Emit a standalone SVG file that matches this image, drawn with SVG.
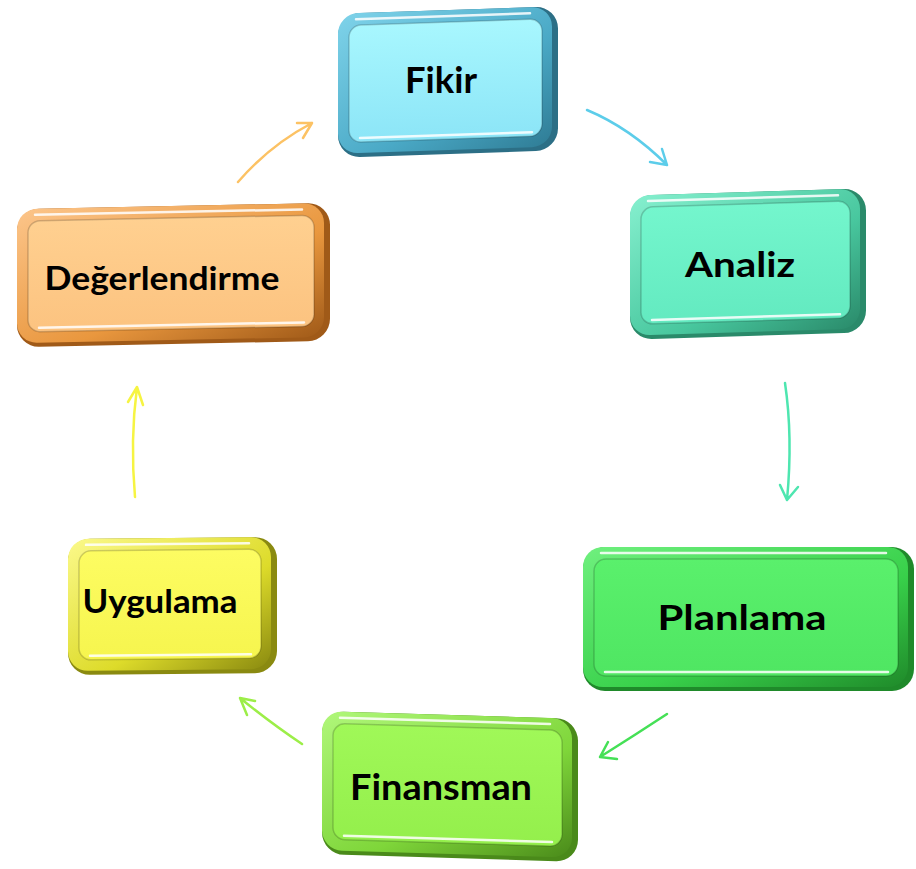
<svg xmlns="http://www.w3.org/2000/svg" width="916" height="869" viewBox="0 0 916 869">
<defs>
<linearGradient id="gFikB" x1="0" y1="0" x2="1" y2="1"><stop offset="0" stop-color="#7fd3ea"/><stop offset="0.6" stop-color="#4aa9c6"/><stop offset="1" stop-color="#2f7c95"/></linearGradient>
<linearGradient id="gFikF" x1="0" y1="0" x2="0" y2="1"><stop offset="0" stop-color="#a8f7fe"/><stop offset="1" stop-color="#8ce5f7"/></linearGradient>
<linearGradient id="gAnaB" x1="0" y1="0" x2="1" y2="1"><stop offset="0" stop-color="#86f0cf"/><stop offset="0.6" stop-color="#48c79e"/><stop offset="1" stop-color="#2a8a6a"/></linearGradient>
<linearGradient id="gAnaF" x1="0" y1="0" x2="0" y2="1"><stop offset="0" stop-color="#74f6cd"/><stop offset="1" stop-color="#63eac0"/></linearGradient>
<linearGradient id="gPlaB" x1="0" y1="0" x2="1" y2="1"><stop offset="0" stop-color="#6ff07e"/><stop offset="0.6" stop-color="#38d04a"/><stop offset="1" stop-color="#1f8a2a"/></linearGradient>
<linearGradient id="gPlaF" x1="0" y1="0" x2="0" y2="1"><stop offset="0" stop-color="#5af06c"/><stop offset="1" stop-color="#4fe662"/></linearGradient>
<linearGradient id="gFinB" x1="0" y1="0" x2="1" y2="1"><stop offset="0" stop-color="#b0f77a"/><stop offset="0.6" stop-color="#7fd63a"/><stop offset="1" stop-color="#4a8a1a"/></linearGradient>
<linearGradient id="gFinF" x1="0" y1="0" x2="0" y2="1"><stop offset="0" stop-color="#a0f858"/><stop offset="1" stop-color="#94ef4c"/></linearGradient>
<linearGradient id="gDegB" x1="0" y1="0" x2="1" y2="1"><stop offset="0" stop-color="#fcc58a"/><stop offset="0.6" stop-color="#e9973e"/><stop offset="1" stop-color="#a05a18"/></linearGradient>
<linearGradient id="gDegF" x1="0" y1="0" x2="0" y2="1"><stop offset="0" stop-color="#ffd090"/><stop offset="1" stop-color="#fcc380"/></linearGradient>
<linearGradient id="gUygB" x1="0" y1="0" x2="1" y2="1"><stop offset="0" stop-color="#fbf98a"/><stop offset="0.6" stop-color="#dddb2a"/><stop offset="1" stop-color="#8a8a10"/></linearGradient>
<linearGradient id="gUygF" x1="0" y1="0" x2="0" y2="1"><stop offset="0" stop-color="#fdfc62"/><stop offset="1" stop-color="#f6f54e"/></linearGradient>
</defs>
<style>
.lbl{font-family:Lato,"Open Sans","Liberation Sans",sans-serif;font-weight:bold;fill:#000;text-anchor:middle}
.hl{fill:none;stroke:#ffffff;stroke-width:2.5;stroke-opacity:0.85;stroke-linecap:round}
.rim{fill:none;stroke:#000;stroke-opacity:0.18;stroke-width:1.5}
.arr{fill:none;stroke-width:2.5;stroke-linecap:round;stroke-linejoin:round}
</style>

<g id="connectors">
<path class="arr" stroke="#5ccdea" d="M587 110 Q630 128 667 165 M662 149 L667 165 L650 162"/>
<path class="arr" stroke="#4ee6b0" d="M785 383 Q793 437 787 500 M780 485 L787 500 L798 487"/>
<path class="arr" stroke="#45e056" d="M667 714 Q635 735 600 757 M608 742 L600 757 L617 759"/>
<path class="arr" stroke="#9cee48" d="M302 744 Q272 724 240 698 M255 701 L240 698 L247 715"/>
<path class="arr" stroke="#f6f442" d="M135 497 Q130 440 137 387 M128 402 L137 387 L143 405"/>
<path class="arr" stroke="#fcc264" d="M238 182 Q270 145 312 123 M297 123 L312 123 L303 138"/>
</g>

<g id="node-fikir">
<g transform="matrix(1 -0.034 0 1 0 15.23)">
<rect x="338" y="10" width="220" height="144" rx="22" fill="#2c6f86"/>
<rect x="338" y="10" width="214" height="140" rx="20" fill="url(#gFikB)"/>
<rect x="349" y="22" width="193" height="117" rx="12" fill="url(#gFikF)"/>
<rect x="349" y="22" width="193" height="117" rx="12" class="rim"/>
<path class="hl" d="M360 135 L532 135"/>
<path class="hl" d="M356 16 L530 16" stroke-opacity="0.5"/>
</g>
<text class="lbl" x="441" y="93" font-size="36" textLength="72" lengthAdjust="spacingAndGlyphs">Fikir</text>
</g>

<g id="node-analiz">
<g transform="matrix(1 -0.03 0 1 0 22.44)">
<rect x="630" y="192" width="236" height="144" rx="22" fill="#2a8a6a"/>
<rect x="630" y="192" width="230" height="140" rx="20" fill="url(#gAnaB)"/>
<rect x="641" y="204" width="209" height="117" rx="12" fill="url(#gAnaF)"/>
<rect x="641" y="204" width="209" height="117" rx="12" class="rim"/>
<path class="hl" d="M652 317 L840 317"/>
<path class="hl" d="M648 198 L838 198" stroke-opacity="0.5"/>
</g>
<text class="lbl" x="740" y="277" font-size="35" textLength="110" lengthAdjust="spacingAndGlyphs">Analiz</text>
</g>

<g id="node-planlama">
<rect x="583" y="547" width="331" height="144" rx="22" fill="#1f8a2a"/>
<rect x="583" y="547" width="325" height="140" rx="20" fill="url(#gPlaB)"/>
<rect x="594" y="559" width="304" height="117" rx="12" fill="url(#gPlaF)"/>
<rect x="594" y="559" width="304" height="117" rx="12" class="rim"/>
<path class="hl" d="M605 672 L888 672"/>
<path class="hl" d="M601 553 L886 553" stroke-opacity="0.5"/>
<text class="lbl" x="742" y="630" font-size="35" textLength="169" lengthAdjust="spacingAndGlyphs">Planlama</text>
</g>

<g id="node-finansman">
<g transform="matrix(1 0.03 0 1 0 -13.49)">
<rect x="322" y="715" width="256" height="143" rx="22" fill="#4a8a1a"/>
<rect x="322" y="715" width="250" height="139" rx="20" fill="url(#gFinB)"/>
<rect x="333" y="727" width="229" height="116" rx="12" fill="url(#gFinF)"/>
<rect x="333" y="727" width="229" height="116" rx="12" class="rim"/>
<path class="hl" d="M344 839 L552 839"/>
<path class="hl" d="M340 721 L550 721" stroke-opacity="0.5"/>
</g>
<text class="lbl" x="441" y="800" font-size="36" textLength="182" lengthAdjust="spacingAndGlyphs">Finansman</text>
</g>

<g id="node-uygulama">
<g transform="matrix(1 -0.01 0 1 0 1.73)">
<rect x="68" y="538" width="209" height="136" rx="22" fill="#8a8a10"/>
<rect x="68" y="538" width="203" height="132" rx="20" fill="url(#gUygB)"/>
<rect x="79" y="550" width="182" height="109" rx="12" fill="url(#gUygF)"/>
<rect x="79" y="550" width="182" height="109" rx="12" class="rim"/>
<path class="hl" d="M90 655 L251 655"/>
<path class="hl" d="M86 544 L249 544" stroke-opacity="0.5"/>
</g>
<text class="lbl" x="160" y="613" font-size="32" textLength="155" lengthAdjust="spacingAndGlyphs">Uygulama</text>
</g>

<g id="node-degerlendirme">
<g transform="matrix(1 -0.02 0 1 0 3.47)">
<rect x="17" y="206" width="313" height="138" rx="22" fill="#a05a18"/>
<rect x="17" y="206" width="307" height="134" rx="20" fill="url(#gDegB)"/>
<rect x="28" y="218" width="286" height="111" rx="12" fill="url(#gDegF)"/>
<rect x="28" y="218" width="286" height="111" rx="12" class="rim"/>
<path class="hl" d="M39 325 L304 325"/>
<path class="hl" d="M35 212 L302 212" stroke-opacity="0.5"/>
</g>
<text class="lbl" x="162" y="290" font-size="32" textLength="235" lengthAdjust="spacingAndGlyphs">Değerlendirme</text>
</g>
</svg>
